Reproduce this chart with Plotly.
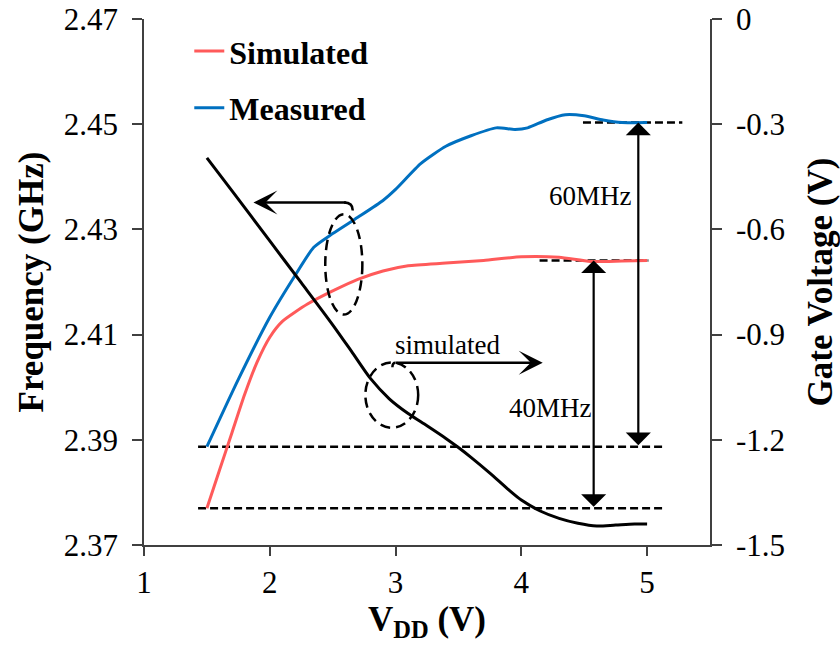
import plotly.graph_objects as go

# Measured oscillation frequency vs supply voltage
vdd_meas = [1.5, 1.75, 2.0, 2.2, 2.35, 2.5, 2.7, 2.9, 3.0, 3.2, 3.4, 3.6, 3.8, 3.95, 4.05, 4.2, 4.35, 4.5, 4.65, 4.8, 5.0]
freq_meas = [2.3887, 2.4015, 2.4133, 2.4212, 2.4266, 2.4292, 2.4323, 2.4355, 2.4376, 2.4425, 2.4458,
             2.4478, 2.4493, 2.4490, 2.4493, 2.4508, 2.4518, 2.4516, 2.4508, 2.4503, 2.4503]

# Simulated oscillation frequency vs supply voltage
vdd_sim = [1.5, 1.6, 1.7, 1.8, 1.9, 2.0, 2.1, 2.3, 2.5, 2.7, 2.9, 3.1, 3.4, 3.7, 4.0, 4.3, 4.55, 4.8, 5.0]
freq_sim = [2.3770, 2.3842, 2.3914, 2.3986, 2.4048, 2.4095, 2.4125, 2.4158, 2.4183, 2.4205, 2.4221,
            2.4231, 2.4236, 2.4241, 2.4248, 2.4247, 2.4239, 2.4240, 2.4241]

# Simulated gate voltage vs supply voltage (right axis)
vdd_gate = [1.5, 1.7, 2.0, 2.25, 2.5, 2.65, 2.8, 2.95, 3.1, 3.25, 3.4, 3.5, 3.6, 3.75, 3.9, 4.0,
            4.15, 4.3, 4.45, 4.6, 4.75, 4.9, 5.0]
gate_v = [-0.396, -0.490, -0.633, -0.752, -0.872, -0.948, -1.025, -1.083, -1.125, -1.160, -1.196,
          -1.222, -1.250, -1.295, -1.343, -1.372, -1.403, -1.424, -1.438, -1.446, -1.443, -1.440, -1.440]

vdd_ticks = [1, 2, 3, 4, 5]
freq_ticks = [2.37, 2.39, 2.41, 2.43, 2.45, 2.47]
freq_labels = ["2.37", "2.39", "2.41", "2.43", "2.45", "2.47"]
gate_ticks = [-1.5, -1.2, -0.9, -0.6, -0.3, 0]
gate_labels = ["-1.5", "-1.2", "-0.9", "-0.6", "-0.3", "0"]

SERIF = "Liberation Serif, Times New Roman, serif"
RED = "#FF5A5A"
BLUE = "#0070C0"
AXIS = "#404040"

fig = go.Figure()

fig.add_trace(go.Scatter(
    x=vdd_sim, y=freq_sim, name="Simulated", mode="lines", legendgroup="sim",
    line=dict(color=RED, width=3, shape="spline", smoothing=0.6)))
fig.add_trace(go.Scatter(
    x=vdd_meas, y=freq_meas, name="Measured", mode="lines", legendgroup="meas",
    line=dict(color=BLUE, width=3, shape="spline", smoothing=0.6)))
fig.add_trace(go.Scatter(
    x=vdd_gate, y=gate_v, name="Gate voltage", mode="lines", yaxis="y2", showlegend=False,
    line=dict(color="black", width=3, shape="spline", smoothing=0.8)))

# Reference levels at the start and end of each frequency curve
meas_lo, meas_hi = freq_meas[0], freq_meas[-1]
sim_lo, sim_hi = freq_sim[0], freq_sim[-1]

dash = dict(color="black", width=2.5, dash="8px,4px")
shapes = [
    dict(type="line", xref="x", yref="y", x0=1.43, x1=5.15, y0=meas_lo, y1=meas_lo, line=dash, layer="below"),
    dict(type="line", xref="x", yref="y", x0=1.43, x1=5.15, y0=sim_lo, y1=sim_lo, line=dash, layer="below"),
    dict(type="line", xref="x", yref="y", x0=4.49, x1=5.28, y0=meas_hi, y1=meas_hi, line=dash, layer="below"),
    dict(type="line", xref="x", yref="y", x0=4.145, x1=5.01, y0=sim_hi, y1=sim_hi, line=dash, layer="below"),
    # dashed ellipses marking which curve each arrow refers to
    dict(type="circle", xref="x", yref="y", x0=2.441, x1=2.736, y0=2.4138, y1=2.4329,
         line=dict(color="black", width=2.5, dash="10px,6px")),
    dict(type="circle", xref="x", yref="y", x0=2.76, x1=3.18, y0=2.3923, y1=2.4047,
         line=dict(color="black", width=2.5, dash="10px,6px")),
    # small hooks joining the arrows to the ellipses
    dict(type="path", xref="x", yref="y", path="M 2.59,2.4351 Q 2.66,2.4351 2.66,2.4336",
         line=dict(color="black", width=2.5)),
    dict(type="path", xref="x", yref="y", path="M 3.0,2.40467 Q 2.975,2.40467 2.975,2.4038",
         line=dict(color="black", width=2.5)),
]

ann_font = dict(family=SERIF, size=27, color="black")
span_arrow = dict(xref="x", yref="y", axref="x", ayref="y", text="", showarrow=True,
                  arrowside="end+start", arrowhead=1, startarrowhead=1, arrowcolor="black",
                  arrowsize=1.9, startarrowsize=1.9, arrowwidth=2.2, standoff=0, startstandoff=0)
annotations = [
    # 60 MHz span of the measured curve
    dict(x=4.93, y=meas_hi, ax=4.93, ay=meas_lo, **span_arrow),
    # 40 MHz span of the simulated curve
    dict(x=4.575, y=sim_hi, ax=4.575, ay=sim_lo, **span_arrow),
    dict(x=4.55, y=2.4363, xref="x", yref="y", text="60MHz", showarrow=False, font=ann_font),
    dict(x=4.23, y=2.3961, xref="x", yref="y", text="40MHz", showarrow=False, font=ann_font),
    dict(x=3.416, y=2.4081, xref="x", yref="y", text="simulated", showarrow=False, font=ann_font),
    # arrows pointing to the axis each curve belongs to
    dict(x=1.87, y=2.4351, ax=2.62, ay=2.4351, xref="x", yref="y", axref="x", ayref="y",
         text="", showarrow=True, arrowhead=3, arrowsize=1.6, arrowwidth=2.5, standoff=0,
         arrowcolor="black"),
    dict(x=4.17, y=2.40467, ax=2.99, ay=2.40467, xref="x", yref="y", axref="x", ayref="y",
         text="", showarrow=True, arrowhead=3, arrowsize=1.6, arrowwidth=2.5, standoff=0,
         arrowcolor="black"),
]

tick_font = dict(family=SERIF, size=31, color="black")
title_font = dict(family=SERIF, size=35, color="black", weight="bold")

fig.update_layout(
    width=840, height=646,
    margin=dict(l=144, r=130, t=19, b=101),
    paper_bgcolor="white", plot_bgcolor="white",
    font=dict(family=SERIF, color="black"),
    showlegend=True,
    legend=dict(x=0.08, y=0.991, xanchor="left", yanchor="top", bgcolor="rgba(0,0,0,0)",
                font=dict(family=SERIF, size=32, color="black", weight="bold"),
                traceorder="grouped", tracegroupgap=12, itemwidth=30),
    xaxis=dict(range=[1, 5.5], tickvals=vdd_ticks, ticktext=[str(v) for v in vdd_ticks],
               showline=True, linecolor=AXIS, linewidth=1.5, ticks="outside", ticklen=9,
               tickcolor=AXIS, tickwidth=1.5, tickfont=tick_font, showgrid=False, zeroline=False,
               automargin=False,
               title=dict(text="V<sub>DD</sub> (V)", font=title_font, standoff=6)),
    yaxis=dict(range=[2.37, 2.47], tickvals=freq_ticks, ticktext=freq_labels,
               showline=True, linecolor=AXIS, linewidth=1.5, ticks="outside", ticklen=10,
               tickcolor=AXIS, tickwidth=1.5, tickfont=tick_font, showgrid=False, zeroline=False,
               ticklabelstandoff=8, automargin=False,
               title=dict(text="Frequency (GHz)", font=title_font, standoff=10)),
    yaxis2=dict(range=[-1.5, 0], tickvals=gate_ticks, ticktext=gate_labels, overlaying="y", side="right",
                showline=True, linecolor=AXIS, linewidth=1.5, ticks="outside", ticklen=10,
                tickcolor=AXIS, tickwidth=1.5, tickfont=tick_font, showgrid=False, zeroline=False,
                ticklabelstandoff=8, automargin=False,
                title=dict(text="Gate Voltage (V)", font=title_font, standoff=30)),
    shapes=shapes,
    annotations=annotations,
)

fig.write_html("out.html")
